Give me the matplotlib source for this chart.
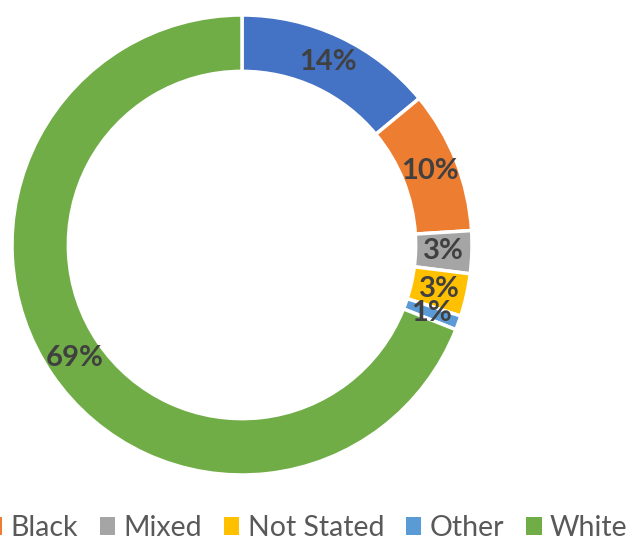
import matplotlib
matplotlib.use("Agg")
import matplotlib.pyplot as plt
from matplotlib.patches import Patch
import numpy as np

categories = ["Asian", "Black", "Mixed", "Not Stated", "Other", "White"]
values = [14, 10, 3, 3, 1, 69]
labels = ["14%", "10%", "3%", "3%", "1%", "69%"]
colors = ["#4472C4", "#ED7D31", "#A5A5A5", "#FFC000", "#5B9BD5", "#70AD47"]

plt.rcParams['font.family'] = ['Lato', 'DejaVu Sans']

fig = plt.figure(figsize=(6.3, 5.4), dpi=100)
ax = fig.add_axes([(242 - 230) / 630, (540 - 245 - 230) / 540, 460 / 630, 460 / 540])
wedges, _ = ax.pie(values, colors=colors, startangle=90, counterclock=False, radius=1,
                   wedgeprops=dict(width=0.245, edgecolor="white", linewidth=2.5))
total = sum(values)
cum = 0
rmid = 1 - 0.245 / 2
for v, lab in zip(values, labels):
    mid = 90 - (cum + v / 2) / total * 360
    cum += v
    ax.text(rmid * np.cos(np.radians(mid)), rmid * np.sin(np.radians(mid)), lab,
            ha="center", va="center", fontsize=21, fontweight="bold", color="#404040")
ax.set_xlim(-1, 1)
ax.set_ylim(-1, 1)
ax.set_aspect("equal")
ax.axis("off")

handles = [Patch(facecolor=c, edgecolor="none") for c in colors]
leg = fig.legend(handles, categories, loc="center", bbox_to_anchor=(250 / 630, 12 / 540),
                 ncol=6, frameon=False, fontsize=20.5, handlelength=0.55, handleheight=0.55,
                 handletextpad=0.3, columnspacing=0.75, labelcolor="#595959")
fig.savefig("out.png", dpi=100)
